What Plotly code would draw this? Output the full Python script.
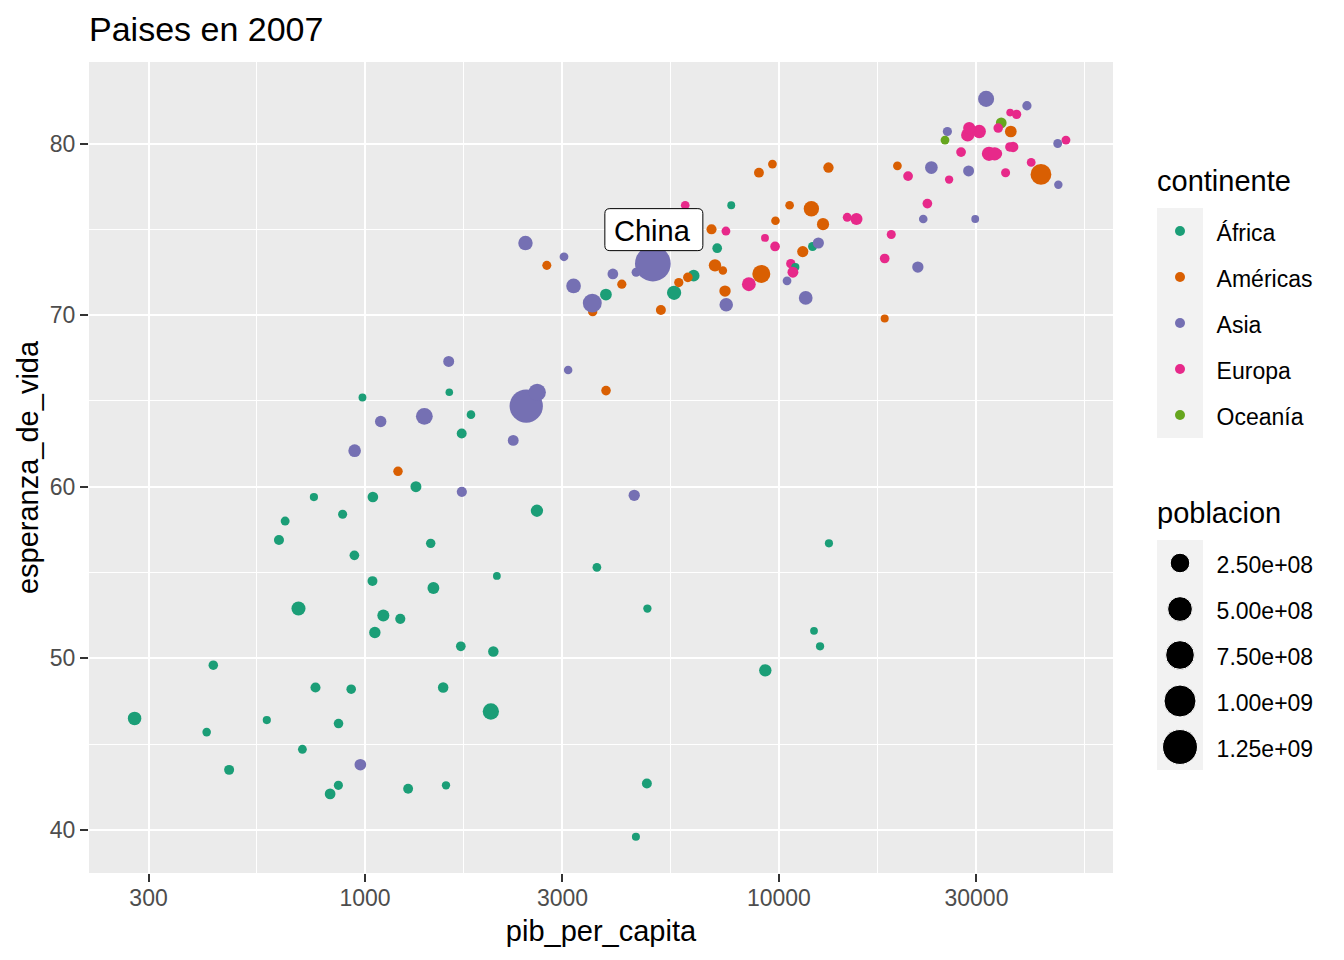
import math

import pandas as pd
import plotly.graph_objects as go

# Values for 2007, one set of lists per continent.
africa_pais = ["Algeria", "Angola", "Benin", "Botswana", "Burkina Faso", "Burundi", "Cameroon",
               "Central African Republic", "Chad", "Comoros", "Congo, Dem. Rep.", "Congo, Rep.",
               "Cote d'Ivoire", "Djibouti", "Egypt", "Equatorial Guinea", "Eritrea", "Ethiopia",
               "Gabon", "Gambia", "Ghana", "Guinea", "Guinea-Bissau", "Kenya", "Lesotho", "Liberia",
               "Libya", "Madagascar", "Malawi", "Mali", "Mauritania", "Mauritius", "Morocco",
               "Mozambique", "Namibia", "Niger", "Nigeria", "Reunion", "Rwanda",
               "Sao Tome and Principe", "Senegal", "Sierra Leone", "Somalia", "South Africa", "Sudan",
               "Swaziland", "Tanzania", "Togo", "Tunisia", "Uganda", "Zambia", "Zimbabwe"]
africa_pib = [6223.4, 4797.2, 1441.3, 12569.9, 1217.0, 430.1, 2042.1, 706.0, 1704.1, 986.1, 277.6,
              3632.6, 1544.8, 2082.5, 5581.2, 12154.1, 641.4, 690.8, 13206.5, 752.7, 1327.6, 942.7,
              579.2, 1463.2, 1569.3, 414.5, 12057.5, 1044.8, 759.3, 1042.6, 1803.2, 10957.0, 3820.2,
              823.7, 4811.1, 619.7, 2014.0, 7670.1, 863.1, 1598.4, 1712.5, 862.5, 926.1, 9269.7,
              2602.4, 4513.5, 1107.5, 883.0, 7092.9, 1056.4, 1271.2, 469.7]
africa_vida = [72.3, 42.7, 56.7, 50.7, 52.3, 49.6, 50.4, 44.7, 50.7, 65.2, 46.5, 55.3, 48.3, 54.8,
               71.3, 51.6, 58.0, 52.9, 56.7, 59.4, 60.0, 56.0, 46.4, 54.1, 42.6, 45.7, 74.0, 59.4,
               48.3, 54.5, 64.2, 72.8, 71.2, 42.1, 52.9, 56.9, 46.9, 76.4, 46.2, 65.5, 63.1, 42.6,
               48.2, 49.3, 58.6, 39.6, 52.5, 58.4, 73.9, 51.5, 42.4, 43.5]
africa_pob = [33333216, 12420476, 8078314, 1639131, 14326203, 8390505, 17696293, 4369038, 10238807,
              710960, 64606759, 3800610, 18013409, 496374, 80264543, 551201, 4906585, 76511887,
              1454867, 1688359, 22873338, 9947814, 1472041, 35610177, 2012649, 3193942, 6036914,
              19167654, 13327079, 12031795, 3270065, 1250882, 33757175, 19951656, 2055080, 12894865,
              135031164, 798094, 8860588, 199579, 12267493, 6144562, 9118773, 43997828, 42292929,
              1133066, 38139640, 5701579, 10276158, 29170398, 11746035, 12311143]

americas_pais = ["Argentina", "Bolivia", "Brazil", "Canada", "Chile", "Colombia", "Costa Rica", "Cuba",
                 "Dominican Republic", "Ecuador", "El Salvador", "Guatemala", "Haiti", "Honduras",
                 "Jamaica", "Mexico", "Nicaragua", "Panama", "Paraguay", "Peru", "Puerto Rico",
                 "Trinidad and Tobago", "United States", "Uruguay", "Venezuela"]
americas_pib = [12779.4, 3822.1, 9065.8, 36319.2, 13171.6, 7006.6, 9645.1, 8948.1, 6025.4, 6873.3,
                5728.4, 5186.1, 1201.6, 3548.3, 7320.9, 11977.6, 2749.3, 9809.2, 4172.8, 7408.9,
                19328.7, 18008.5, 42951.7, 10611.5, 11415.8]
americas_vida = [75.3, 65.6, 72.4, 80.7, 78.6, 72.9, 78.8, 78.3, 72.2, 75.0, 71.9, 70.3, 60.9, 70.2,
                 72.6, 76.2, 72.9, 75.5, 71.8, 71.4, 78.7, 69.8, 78.2, 76.4, 73.7]
americas_pob = [40301927, 9119152, 190010647, 33390141, 16284741, 44227550, 4133884, 11416987, 9319622,
                13755680, 6939688, 12572928, 8502814, 7483763, 2780132, 108700891, 5675356, 3242173,
                6667147, 28674757, 3942491, 1056608, 301139947, 3447496, 26084662]

asia_pais = ["Afghanistan", "Bahrain", "Bangladesh", "Cambodia", "China", "Hong Kong", "India",
             "Indonesia", "Iran", "Iraq", "Israel", "Japan", "Jordan", "Korea, Dem. Rep.",
             "Korea, Rep.", "Kuwait", "Lebanon", "Malaysia", "Mongolia", "Myanmar", "Nepal", "Oman",
             "Pakistan", "Philippines", "Saudi Arabia", "Singapore", "Sri Lanka", "Syria", "Taiwan",
             "Thailand", "Vietnam", "West Bank and Gaza", "Yemen"]
asia_pib = [974.6, 29796.0, 1391.3, 1713.8, 4959.1, 39725.0, 2452.2, 3540.7, 11605.7, 4471.1, 25523.3,
            31656.1, 4519.5, 1593.1, 23348.1, 47307.0, 10461.1, 12451.7, 3095.8, 944.0, 1091.4, 22316.2,
            2605.9, 3190.5, 21654.8, 47143.2, 3970.1, 4184.5, 28718.3, 7458.4, 2441.6, 3025.3, 2280.8]
asia_vida = [43.8, 75.6, 64.1, 59.7, 73.0, 82.2, 64.7, 70.7, 71.0, 59.5, 80.7, 82.6, 72.5, 67.3, 78.6,
             77.6, 72.0, 74.2, 66.8, 62.1, 63.8, 75.6, 65.5, 71.7, 72.8, 80.0, 72.4, 74.1, 78.4, 70.6,
             74.2, 73.4, 62.7]
asia_pob = [31889923, 708573, 150448339, 14131858, 1318683096, 6980412, 1110396331, 223547000, 69453570,
            27499638, 6426679, 127467972, 6053193, 23301725, 49044790, 2505559, 3921278, 24821286,
            2874127, 47761980, 28901790, 3204897, 169270617, 91077287, 27601038, 4553009, 20378239,
            19314747, 23174294, 65068149, 85262356, 4018332, 22211743]

europa_pais = ["Albania", "Austria", "Belgium", "Bosnia and Herzegovina", "Bulgaria", "Croatia",
               "Czech Republic", "Denmark", "Finland", "France", "Germany", "Greece", "Hungary",
               "Iceland", "Ireland", "Italy", "Montenegro", "Netherlands", "Norway", "Poland",
               "Portugal", "Romania", "Serbia", "Slovak Republic", "Slovenia", "Spain", "Sweden",
               "Switzerland", "Turkey", "United Kingdom"]
europa_pib = [5937.0, 36126.5, 33692.6, 7446.3, 10680.8, 14619.2, 22833.3, 35278.4, 33207.1, 30470.0,
              32170.4, 27538.4, 18008.9, 36180.8, 40676.0, 28569.7, 9253.9, 36797.9, 49357.2, 15389.9,
              20509.6, 10808.5, 9786.5, 18678.3, 25768.3, 28821.1, 33859.7, 37506.4, 8458.3, 33203.3]
europa_vida = [76.4, 79.8, 79.4, 74.9, 73.0, 75.7, 76.5, 78.3, 79.3, 80.7, 79.4, 79.5, 73.3, 81.8, 78.9,
               80.5, 74.5, 79.8, 80.2, 75.6, 78.1, 72.5, 74.0, 74.7, 77.9, 80.9, 80.9, 81.7, 71.8, 79.4]
europa_pob = [3600523, 8199783, 10392226, 4552198, 7322858, 4493312, 10228744, 5468120, 5238460,
              61083916, 82400996, 10706290, 9956108, 301931, 4109086, 58147733, 684736, 16570613,
              4627926, 38518241, 10642836, 22276056, 10150265, 5447502, 2009245, 40448191, 9031088,
              7554661, 71158647, 60776238]

oceania_pais = ["Australia", "New Zealand"]
oceania_pib = [34435.4, 25185.0]
oceania_vida = [81.2, 80.2]
oceania_pob = [20434176, 4115771]

continentes = ["África", "Américas", "Asia", "Europa", "Oceanía"]
colores = ["#1B9E77", "#D95F02", "#7570B3", "#E7298A", "#66A61E"]
pob_breaks = [2.5e8, 5e8, 7.5e8, 1e9, 1.25e9]

x_major = [300, 1000, 3000, 10000, 30000]
x_minor = [548, 1732, 5477, 17321, 54772]
y_major = [40, 50, 60, 70, 80]
y_minor = [45, 55, 65, 75]

W, H = 1344, 960


def fx(px):
    return px / W


def fy(px):
    return 1 - px / H


# Points are drawn in country order so the overlaps come out mixed, not by continent.
partes = []
for nombre, pais, pib, vida, pob in [
    ("África", africa_pais, africa_pib, africa_vida, africa_pob),
    ("Américas", americas_pais, americas_pib, americas_vida, americas_pob),
    ("Asia", asia_pais, asia_pib, asia_vida, asia_pob),
    ("Europa", europa_pais, europa_pib, europa_vida, europa_pob),
    ("Oceanía", oceania_pais, oceania_pib, oceania_vida, oceania_pob),
]:
    partes.append(pd.DataFrame({"pais": pais, "pib": pib, "vida": vida, "pob": pob, "continente": nombre}))
df = pd.concat(partes).sort_values("pais")

max_pob = df["pob"].max()


def tam(pob):
    return 7.2 + 28.5 * (pob / max_pob) ** 0.5


color_de = dict(zip(continentes, colores))

fig = go.Figure()
fig.add_trace(go.Scatter(
    x=df["pib"], y=df["vida"], mode="markers", text=df["pais"],
    marker=dict(size=[tam(p) for p in df["pob"]], color=[color_de[c] for c in df["continente"]],
                line=dict(width=0), opacity=1),
    showlegend=False,
))

# Legend keys are small category panels beside the plot.
fig.add_trace(go.Scatter(
    x=[0] * len(continentes), y=continentes, mode="markers", xaxis="x2", yaxis="y2",
    marker=dict(size=10, color=colores, opacity=1), showlegend=False,
))
etiquetas_pob = [f"{v:.2e}" for v in pob_breaks]
fig.add_trace(go.Scatter(
    x=[0] * len(pob_breaks), y=etiquetas_pob, mode="markers", xaxis="x3", yaxis="y3",
    marker=dict(size=[tam(v) for v in pob_breaks], color="black", opacity=1), showlegend=False,
))

font_eje = dict(family="Liberation Sans", size=23, color="#4D4D4D")
font_titulo = dict(family="Liberation Sans", size=29, color="black")
font_leyenda = dict(family="Liberation Sans", size=23, color="black")

eje_comun = dict(showgrid=True, gridcolor="white", gridwidth=2, zeroline=False, showline=False,
                 ticks="outside", ticklen=8, tickwidth=2, tickcolor="#333333", tickfont=font_eje)
panel_x = dict(range=[-1, 1], showgrid=False, zeroline=False, showticklabels=False, ticks="", showline=False)
panel_y = dict(type="category", range=[4.5, -0.5], showgrid=False, zeroline=False, showline=False, side="right",
               ticks="outside", ticklen=8, tickcolor="rgba(0,0,0,0)", tickfont=font_leyenda, ticklabelshift=-2)

fig.update_layout(
    width=W, height=H, autosize=False,
    margin=dict(l=0, r=0, t=0, b=0),
    paper_bgcolor="white", plot_bgcolor="#EBEBEB",
    title=dict(text="Paises en 2007", x=fx(89), xanchor="left", y=fy(29), yanchor="middle",
               font=dict(family="Liberation Sans", size=34, color="black")),
    xaxis=dict(type="log", domain=[fx(89), fx(1113)], range=[2.3333, 4.807],
               tickmode="array", tickvals=x_major, ticktext=[str(v) for v in x_major], ticklabelstandoff=-4,
               minor=dict(tickmode="array", tickvals=x_minor, showgrid=True, gridcolor="white", gridwidth=1, ticks=""),
               title=dict(text="pib_per_capita", font=font_titulo, standoff=11), **eje_comun),
    yaxis=dict(domain=[fy(873), fy(62)], range=[37.49, 84.75],
               tickmode="array", tickvals=y_major,
               minor=dict(tickmode="array", tickvals=y_minor, showgrid=True, gridcolor="white", gridwidth=1, ticks=""),
               title=dict(text="esperanza_de_vida", font=font_titulo, standoff=2), **eje_comun),
    xaxis2=dict(domain=[fx(1157), fx(1203)], anchor="y2", **panel_x),
    yaxis2=dict(domain=[fy(438), fy(208)], anchor="x2", **panel_y),
    xaxis3=dict(domain=[fx(1157), fx(1203)], anchor="y3", **panel_x),
    yaxis3=dict(domain=[fy(770), fy(540)], anchor="x3", **panel_y),
    shapes=[
        dict(type="rect", xref="x2 domain", yref="y2 domain", x0=0, x1=1, y0=0, y1=1,
             fillcolor="#F2F2F2", line_width=0, layer="below"),
        dict(type="rect", xref="x3 domain", yref="y3 domain", x0=0, x1=1, y0=0, y1=1,
             fillcolor="#F2F2F2", line_width=0, layer="below"),
    ],
)

# Label box for China, rounded like geom_label and anchored to the point.
china = df[df["pais"] == "China"].iloc[0]
fig.add_shape(
    type="path", xref="x", yref="y", xsizemode="pixel", ysizemode="pixel",
    xanchor=china["pib"], yanchor=china["vida"],
    path="M -43 55 L 45 55 Q 50 55 50 50 L 50 18 Q 50 13 45 13 L -43 13 Q -48 13 -48 18 L -48 50 Q -48 55 -43 55 Z",
    fillcolor="white", line=dict(color="black", width=1), layer="above",
)
fig.add_annotation(
    x=math.log10(china["pib"]), y=china["vida"], yshift=33, xshift=0,
    text="China", showarrow=False, font=font_titulo,
)

fig.add_annotation(xref="paper", yref="paper", x=fx(1157), y=fy(181), xshift=-2, text="continente", showarrow=False,
                   xanchor="left", yanchor="middle", font=font_titulo)
fig.add_annotation(xref="paper", yref="paper", x=fx(1157), y=fy(513), xshift=-2, text="poblacion", showarrow=False,
                   xanchor="left", yanchor="middle", font=font_titulo)

# Browser default body margin would push the figure 8px down and right.
fig.write_html("out.html", config={"displayModeBar": False}, post_script="document.body.style.margin='0';")
